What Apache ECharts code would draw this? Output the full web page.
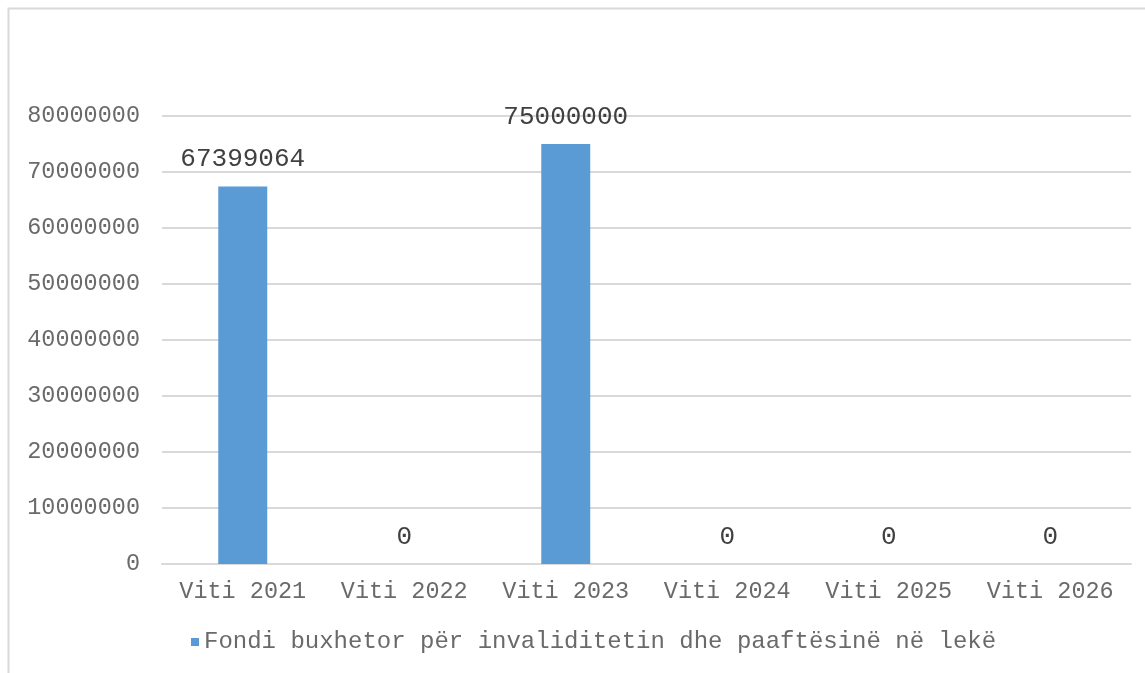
<!DOCTYPE html>
<html><head><meta charset="utf-8">
<script src="https://cdn.jsdelivr.net/npm/echarts@6/dist/echarts.min.js"></script>
<style>html,body{margin:0;padding:0;background:#fff}#c{width:1145px;height:673px}</style>
</head><body><div id="c"></div>
<script>
const categories = ['Viti 2021','Viti 2022','Viti 2023','Viti 2024','Viti 2025','Viti 2026'];
const values = [67399064, 0, 75000000, 0, 0, 0];
const seriesName = 'Fondi buxhetor për invaliditetin dhe paaftësinë në lekë';
const yMin = 0, yMax = 80000000, yStep = 10000000;
const FONT = '"Liberation Mono", "Courier New", monospace';
const chart = echarts.init(document.getElementById('c'), null, {renderer:'canvas'});
chart.setOption({
  animation:false,
  backgroundColor:'#fff',
  graphic:[{type:'rect', shape:{x:8.5,y:8.5,width:1300,height:800}, style:{fill:'none',stroke:'#d9d9d9',lineWidth:2}, silent:true}],
  grid:{left:162,right:14,top:116,bottom:109,containLabel:false},
  legend:{show:true,bottom:14,left:186,itemWidth:8,itemHeight:8,itemGap:7,icon:'rect',
    textStyle:{fontFamily:FONT,fontSize:24,color:'#6a6a6a'},data:[seriesName]},
  xAxis:{type:'category',data:categories,
    axisLine:{lineStyle:{color:'#d9d9d9',width:2}},axisTick:{show:false},
    axisLabel:{interval:0,fontFamily:FONT,fontSize:23.5,color:'#6a6a6a',margin:16}},
  yAxis:{type:'value',min:yMin,max:yMax,interval:yStep,
    axisLine:{show:false},axisTick:{show:false},
    splitLine:{lineStyle:{color:'#d9d9d9',width:2}},
    axisLabel:{fontFamily:FONT,fontSize:23.5,color:'#6a6a6a',margin:22,formatter:v=>String(v)}},
  series:[{name:seriesName,type:'bar',data:values,barWidth:49,
    itemStyle:{color:'#5b9bd5'},
    label:{show:true,position:'top',distance:14,fontFamily:FONT,fontSize:26,color:'#404040',formatter:p=>String(p.value)}}]
});
</script></body></html>
